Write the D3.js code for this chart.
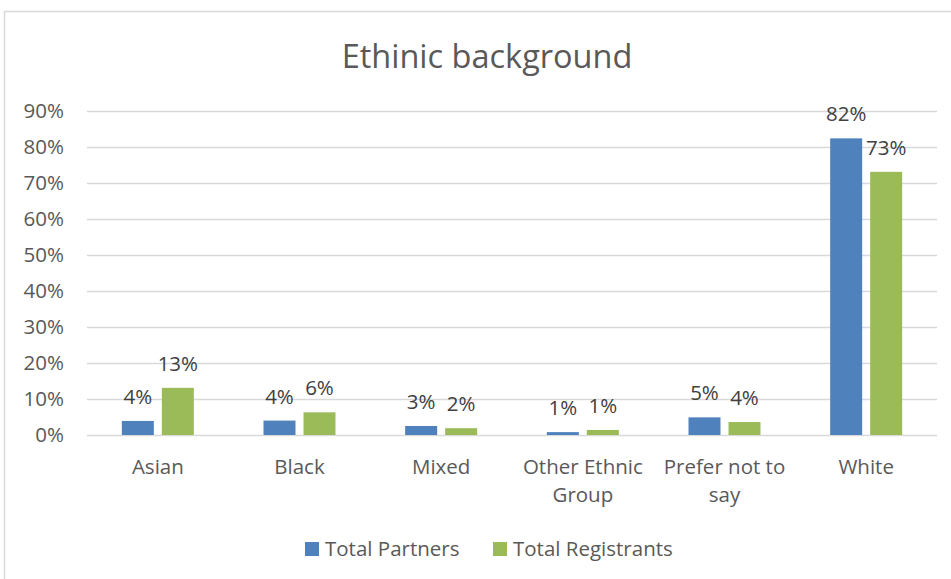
<!DOCTYPE html>
<html>
<head>
<meta charset="utf-8">
<script src="https://cdn.jsdelivr.net/npm/d3@7"></script>
<style>
  body { margin: 0; background: #fff; }
  svg { display: block; font-family: "Open Sans", sans-serif; }
</style>
</head>
<body>
<div id="chart"></div>
<script>
// Data
const categories = ['Asian', 'Black', 'Mixed', 'Other Ethnic Group', 'Prefer not to say', 'White'];
const seriesNames = ['Total Partners', 'Total Registrants'];
const partners = [0.039, 0.040, 0.025, 0.008, 0.049, 0.824];
const registrants = [0.131, 0.063, 0.019, 0.014, 0.036, 0.731];
const partnerLabels = ['4%', '4%', '3%', '1%', '5%', '82%'];
const registrantLabels = ['13%', '6%', '2%', '1%', '4%', '73%'];
const yTicks = [0, 0.1, 0.2, 0.3, 0.4, 0.5, 0.6, 0.7, 0.8, 0.9];
const colors = ['#4f81bd', '#9bbb59'];

const W = 951, H = 579;
const margin = { top: 111, right: 14, bottom: 144, left: 87 };
const width = W - margin.left - margin.right;
const height = H - margin.top - margin.bottom;
const textColor = '#595959';
const fontFamily = '"Open Sans", sans-serif';
const fontSize = '20.5px';

const svg = d3.select('#chart').append('svg')
    .attr('width', W)
    .attr('height', H);

// Chart frame
svg.append('rect')
    .attr('x', 4.5).attr('y', 11.5)
    .attr('width', 980).attr('height', 620)
    .attr('fill', 'none')
    .attr('stroke', '#d9d9d9')
    .attr('stroke-width', 1.5);

// Title
svg.append('text')
    .attr('x', 487).attr('y', 68)
    .attr('text-anchor', 'middle')
    .style('fill', textColor)
    .style('font-size', '32.5px')
    .text('Ethinic background');

const g = svg.append('g')
    .attr('transform', `translate(${margin.left},${margin.top})`);

const x0 = d3.scaleBand()
    .domain(categories)
    .range([0, width])
    .paddingInner(0)
    .paddingOuter(0);

const x1 = d3.scaleBand()
    .domain(seriesNames)
    .range([x0.bandwidth() / 2 - 36, x0.bandwidth() / 2 + 36])
    .paddingInner(0.2)
    .paddingOuter(0);

const y = d3.scaleLinear()
    .domain([0, 0.9])
    .range([height, 0]);

// Gridlines
g.append('g')
    .call(d3.axisLeft(y).tickValues(yTicks).tickSize(-width).tickFormat(''))
    .call(a => a.select('.domain').remove())
    .call(a => a.selectAll('line').attr('stroke', '#d9d9d9').attr('stroke-width', 1.3));

// Y axis labels
g.append('g')
    .call(d3.axisLeft(y).tickValues(yTicks).tickSize(0).tickPadding(23).tickFormat(d3.format('.0%')))
    .call(a => a.select('.domain').remove())
    .call(a => a.selectAll('text')
        .style('fill', textColor)
        .style('font-size', fontSize)
        .style('font-family', fontFamily));

// Bars
const rows = categories.map((c, i) => ({
    cat: c,
    values: [
        { s: seriesNames[0], v: partners[i], label: partnerLabels[i], color: colors[0] },
        { s: seriesNames[1], v: registrants[i], label: registrantLabels[i], color: colors[1] }
    ]
}));

const groups = g.selectAll('.cat')
    .data(rows)
    .enter().append('g')
    .attr('class', 'cat')
    .attr('transform', d => `translate(${x0(d.cat)},0)`);

groups.selectAll('rect')
    .data(d => d.values)
    .enter().append('rect')
    .attr('x', d => x1(d.s))
    .attr('y', d => y(d.v))
    .attr('width', x1.bandwidth())
    .attr('height', d => height - y(d.v))
    .attr('fill', d => d.color);

groups.selectAll('.val')
    .data(d => d.values)
    .enter().append('text')
    .attr('class', 'val')
    .attr('x', d => x1(d.s) + x1.bandwidth() / 2)
    .attr('y', d => y(d.v) - 17)
    .attr('text-anchor', 'middle')
    .style('fill', '#404040')
    .style('font-size', fontSize)
    .text(d => d.label);

// X axis (category labels, wrapped)
const xAxis = g.append('g')
    .attr('transform', `translate(0,${height})`)
    .call(d3.axisBottom(x0).tickSize(0).tickPadding(24))
    .call(a => a.select('.domain').remove());

xAxis.selectAll('text')
    .style('fill', textColor)
    .style('font-size', fontSize)
    .style('font-family', fontFamily)
    .call(wrap, x0.bandwidth() - 4);

function wrap(texts, maxWidth) {
    texts.each(function() {
        const text = d3.select(this);
        const words = text.text().split(/\s+/);
        const yAttr = text.attr('y');
        const dy = parseFloat(text.attr('dy'));
        text.text(null);
        let line = [];
        let lineNo = 0;
        let tspan = text.append('tspan').attr('x', 0).attr('y', yAttr).attr('dy', dy + 'em');
        words.forEach(w => {
            line.push(w);
            tspan.text(line.join(' '));
            if (tspan.node().getComputedTextLength() > maxWidth && line.length > 1) {
                line.pop();
                tspan.text(line.join(' '));
                line = [w];
                lineNo++;
                tspan = text.append('tspan').attr('x', 0).attr('y', yAttr)
                    .attr('dy', (dy + lineNo * 1.38) + 'em').text(w);
            }
        });
    });
}

// Legend
const legend = svg.append('g')
    .attr('transform', 'translate(305,549)');

const legendX = [0, 188];
seriesNames.forEach((name, i) => {
    const item = legend.append('g').attr('transform', `translate(${legendX[i]},0)`);
    item.append('rect')
        .attr('x', 0).attr('y', -7)
        .attr('width', 14).attr('height', 14)
        .attr('fill', colors[i]);
    item.append('text')
        .attr('x', 20).attr('y', 0)
        .attr('dy', '0.35em')
        .style('fill', textColor)
        .style('font-size', fontSize)
        .text(name);
});
</script>
</body>
</html>
